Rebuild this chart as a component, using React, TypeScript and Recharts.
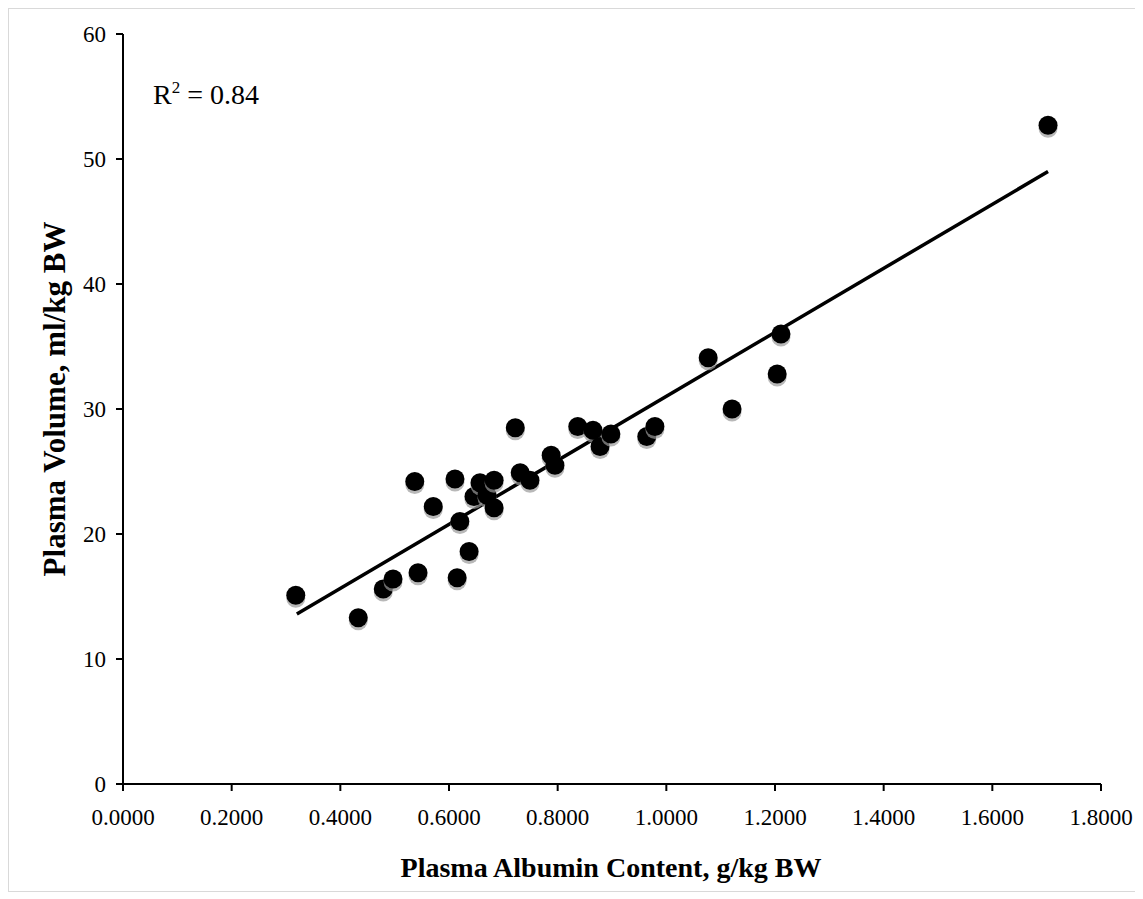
import React from 'react';
import { ScatterChart, Scatter, XAxis, YAxis } from 'recharts';

const albumin = [0.318, 0.433, 0.479, 0.497, 0.543, 0.537, 0.571, 0.611, 0.615, 0.620, 0.637, 0.646, 0.657, 0.670, 0.683, 0.683, 0.722, 0.731, 0.749, 0.788, 0.795, 0.837, 0.865, 0.878, 0.898, 0.964, 0.979, 1.077, 1.121, 1.204, 1.211, 1.7025];
const plasmaVolume = [15.1, 13.3, 15.6, 16.4, 16.9, 24.2, 22.2, 24.4, 16.5, 21.0, 18.6, 23.0, 24.1, 23.1, 24.3, 22.1, 28.5, 24.9, 24.3, 26.3, 25.5, 28.6, 28.3, 27.0, 28.0, 27.8, 28.6, 34.1, 30.0, 32.8, 36.0, 52.7];
const trendX = [0.32, 1.7025];
const trendY = [13.6, 49.0];
const xTicks = [0, 0.2, 0.4, 0.6, 0.8, 1.0, 1.2, 1.4, 1.6, 1.8];
const yTicks = [0, 10, 20, 30, 40, 50, 60];

const points = albumin.map((x, i) => ({ x, y: plasmaVolume[i] }));
const trend = trendX.map((x, i) => ({ x, y: trendY[i] }));

const FONT = '"Liberation Serif", "Times New Roman", serif';
const TITLE_STYLE = { fill: '#000', fontSize: 28, fontWeight: 'bold' as const, fontFamily: FONT };
const YTITLE_STYLE = { ...TITLE_STYLE, fontSize: 31 };

const Dot = (props: any) => {
  const { cx, cy } = props;
  if (cx == null || cy == null) return <g />;
  return (
    <g>
      <circle cx={cx} cy={cy + 3} r={9.5} fill="#9a9a9a" opacity={0.7} />
      <circle cx={cx} cy={cy} r={9.5} fill="#000" />
    </g>
  );
};

const NoDot = () => <g />;

export default function App() {
  return (
    <div style={{ width: 1128, height: 882, border: '1px solid #d9d9d9', background: '#fff' }}>
      <ScatterChart width={1128} height={882} margin={{ top: 25, right: 36, bottom: 0, left: 0 }}>
        <XAxis
          type="number"
          dataKey="x"
          domain={[0, 1.8]}
          ticks={xTicks}
          tickFormatter={(v: number) => v.toFixed(4)}
          height={107}
          axisLine={{ stroke: '#000', strokeWidth: 2 }}
          tickLine={{ stroke: '#000', strokeWidth: 2 }}
          tickSize={7}
          tickMargin={18}
          tick={{ fill: '#000', fontSize: 23, fontFamily: FONT }}
          interval={0}
          allowDataOverflow
          label={{
            content: () => (
              <text x={602} y={868} textAnchor="middle" style={TITLE_STYLE}>
                Plasma Albumin Content, g/kg BW
              </text>
            ),
          }}
        />
        <YAxis
          type="number"
          dataKey="y"
          domain={[0, 60]}
          ticks={yTicks}
          width={114}
          axisLine={{ stroke: '#000', strokeWidth: 2 }}
          tickLine={{ stroke: '#000', strokeWidth: 2 }}
          tickSize={7}
          tickMargin={10}
          tick={{ fill: '#000', fontSize: 23, fontFamily: FONT }}
          interval={0}
          allowDataOverflow
          label={{
            content: () => (
              <text
                x={45}
                y={390}
                transform="rotate(-90 45 390)"
                textAnchor="middle"
                dominantBaseline="central"
                style={YTITLE_STYLE}
              >
                Plasma Volume, ml/kg BW
              </text>
            ),
          }}
        />
        <Scatter
          data={trend}
          line={{ stroke: '#000', strokeWidth: 3.5 }}
          shape={NoDot}
          isAnimationActive={false}
        />
        <Scatter data={points} shape={Dot} isAnimationActive={false} />
        <text x={144} y={95} style={{ fill: '#000', fontSize: 28, fontFamily: FONT }}>
          R<tspan dy={-11} fontSize={17}>2</tspan>
          <tspan dy={11}> = 0.84</tspan>
        </text>
      </ScatterChart>
    </div>
  );
}
